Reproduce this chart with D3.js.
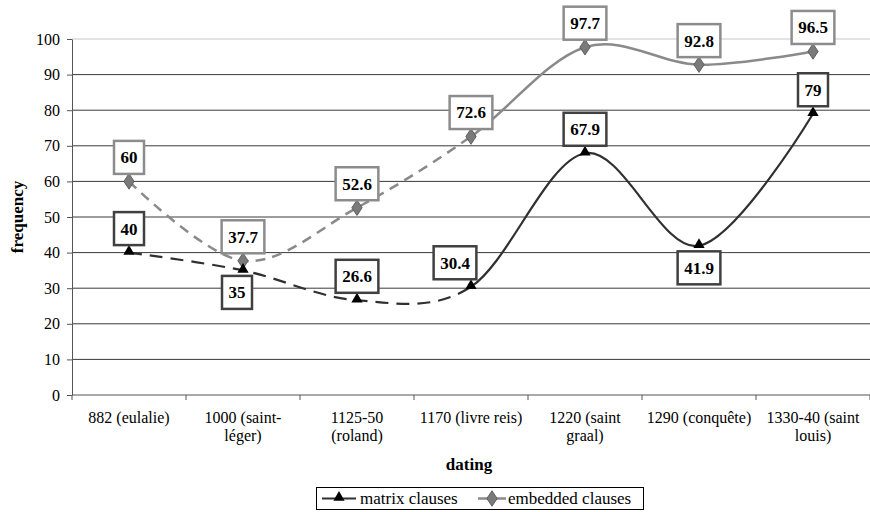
<!DOCTYPE html>
<html>
<head>
<meta charset="utf-8">
<script src="https://cdn.jsdelivr.net/npm/d3@7"></script>
<style>
  body { margin: 0; background: #fff; }
  svg text { font-family: "Liberation Serif", "Times New Roman", serif; }
</style>
</head>
<body>
<div id="chart"></div>
<script>
// line chart: frequency of matrix vs embedded clauses by dating

const categories = [
  "882 (eulalie)", "1000 (saint-\nléger)", "1125-50\n(roland)", "1170 (livre reis)",
  "1220 (saint\ngraal)", "1290 (conquête)", "1330-40 (saint\nlouis)"
];
const matrixClauses = [40, 35, 26.6, 30.4, 67.9, 41.9, 79];
const embeddedClauses = [60, 37.7, 52.6, 72.6, 97.7, 92.8, 96.5];
const yTicks = [0, 10, 20, 30, 40, 50, 60, 70, 80, 90, 100];

// where each value label sits (above / below the point)
const matrixLabelSide = ["above", "below", "above", "above", "above", "below", "above"];
const matrixLabelShift = [0, -6, 0, -16, 0, 0, 0];
const dashedUntil = 3; // index where lines turn solid

const W = 870, H = 512;
const plotLeft = 72, plotRight = 870, plotTop = 39, plotBottom = 395;

const svg = d3.select("#chart").append("svg")
  .attr("width", W).attr("height", H);

const x = d3.scaleBand().domain(categories).range([plotLeft, plotRight]);
const y = d3.scaleLinear().domain([0, 100]).range([plotBottom, plotTop]);
const cx = i => x(categories[i]) + x.bandwidth() / 2;

// gridlines
svg.append("g").selectAll("line")
  .data(yTicks.filter(t => t > 0))
  .join("line")
  .attr("x1", plotLeft).attr("x2", plotRight)
  .attr("y1", d => y(d)).attr("y2", d => y(d))
  .attr("stroke", d => d === 100 ? "#c8c8c8" : "#3a3a3a")
  .attr("stroke-width", 1);

// y axis
const yAxis = svg.append("g")
  .attr("transform", `translate(${plotLeft},0)`)
  .call(d3.axisLeft(y).tickValues(yTicks).tickSize(5).tickPadding(7).tickSizeOuter(0));
yAxis.select(".domain").attr("stroke", "#555");
yAxis.selectAll(".tick line").attr("stroke", "#555");
yAxis.selectAll("text").style("font-size", "16px").attr("fill", "#000")
  .style("font-family", "'Liberation Serif', serif");

// x axis
const xAxis = svg.append("g").attr("transform", `translate(0,${plotBottom})`);
xAxis.append("line").attr("x1", plotLeft).attr("x2", plotRight).attr("stroke", "#555");
xAxis.selectAll(".xt")
  .data(categories.concat([null]))
  .join("line")
  .attr("x1", d => d ? x(d) : plotRight).attr("x2", d => d ? x(d) : plotRight)
  .attr("y1", 0).attr("y2", 5).attr("stroke", "#555");
categories.forEach((c, i) => {
  const t = xAxis.append("text")
    .attr("x", cx(i)).attr("y", 28)
    .attr("text-anchor", "middle")
    .style("font-size", "16px");
  c.split("\n").forEach((s, k) => {
    t.append("tspan").attr("x", cx(i)).attr("dy", k ? 18 : 0).text(s);
  });
});

// axis titles
svg.append("text")
  .attr("x", (plotLeft + plotRight) / 2 - 2).attr("y", 470)
  .attr("text-anchor", "middle")
  .style("font-size", "17px").style("font-weight", "bold")
  .text("dating");
svg.append("text")
  .attr("transform", `translate(23,${(plotTop + plotBottom) / 2}) rotate(-90)`)
  .attr("text-anchor", "middle")
  .style("font-size", "17px").style("font-weight", "bold")
  .text("frequency");

// clip regions for dashed / solid parts
const defs = svg.append("defs");
defs.append("clipPath").attr("id", "clipDash")
  .append("rect").attr("x", 0).attr("y", 0).attr("width", cx(dashedUntil)).attr("height", H);
defs.append("clipPath").attr("id", "clipSolid")
  .append("rect").attr("x", cx(dashedUntil)).attr("y", 0).attr("width", W).attr("height", H);

const line = d3.line()
  .x((d, i) => cx(i))
  .y(d => y(d))
  .curve(d3.curveCardinal.tension(0));

function drawSeries(values, color, dash, sw) {
  svg.append("path").datum(values)
    .attr("d", line).attr("fill", "none")
    .attr("stroke", color).attr("stroke-width", sw)
    .attr("stroke-dasharray", dash)
    .attr("clip-path", "url(#clipDash)");
  svg.append("path").datum(values)
    .attr("d", line).attr("fill", "none")
    .attr("stroke", color).attr("stroke-width", sw)
    .attr("clip-path", "url(#clipSolid)");
}
drawSeries(embeddedClauses, "#8a8a8a", "10,7", 2.5);
drawSeries(matrixClauses, "#303030", "13,8", 2.2);

// markers
const tri = d3.symbol().type(d3.symbolTriangle).size(55);
const dia = d3.symbol().type(d3.symbolDiamond).size(70);
svg.append("g").selectAll("path")
  .data(embeddedClauses).join("path")
  .attr("d", dia)
  .attr("transform", (d, i) => `translate(${cx(i)},${y(d)}) scale(1.15,1)`)
  .attr("fill", "#7a7a7a").attr("stroke", "#555").attr("stroke-width", 0.8);
svg.append("g").selectAll("path")
  .data(matrixClauses).join("path")
  .attr("d", tri)
  .attr("transform", (d, i) => `translate(${cx(i)},${y(d) - 1})`)
  .attr("fill", "#000");

// value labels in boxes
function drawLabels(values, sides, shifts, stroke) {
  const g = svg.append("g");
  values.forEach((v, i) => {
    const side = sides ? sides[i] : "above";
    const px = cx(i) + (shifts ? shifts[i] : 0);
    const py = y(v) + (side === "above" ? -24 : 22);
    const lab = g.append("g").attr("transform", `translate(${px},${py})`);
    const rect = lab.append("rect");
    const t = lab.append("text")
      .attr("text-anchor", "middle").attr("dy", "0.35em")
      .style("font-size", "17px").style("font-weight", "bold")
      .text(v);
    const w = t.node().getComputedTextLength() + 13;
    rect.attr("x", -w / 2).attr("y", -16.5).attr("width", w).attr("height", 33)
      .attr("fill", "#fff").attr("stroke", stroke).attr("stroke-width", 2.5);
  });
}
drawLabels(embeddedClauses, null, null, "#8c8c8c");
drawLabels(matrixClauses, matrixLabelSide, matrixLabelShift, "#404040");

// legend
const lg = svg.append("g");
lg.append("rect").attr("x", 316.5).attr("y", 487.5).attr("width", 327).attr("height", 22)
  .attr("fill", "#fff").attr("stroke", "#000");
lg.append("line").attr("x1", 322).attr("x2", 356).attr("y1", 498.5).attr("y2", 498.5)
  .attr("stroke", "#303030").attr("stroke-width", 2.2);
lg.append("path").attr("d", tri).attr("transform", "translate(339,497.5)").attr("fill", "#000");
lg.append("text").attr("x", 360).attr("y", 504).style("font-size", "17px").text("matrix clauses");
lg.append("line").attr("x1", 478).attr("x2", 506).attr("y1", 498.5).attr("y2", 498.5)
  .attr("stroke", "#8a8a8a").attr("stroke-width", 2.5);
lg.append("path").attr("d", dia).attr("transform", "translate(492,498.5) scale(1.15,1)")
  .attr("fill", "#7a7a7a").attr("stroke", "#555").attr("stroke-width", 0.8);
lg.append("text").attr("x", 508).attr("y", 504).style("font-size", "17px").text("embedded clauses");
</script>
</body>
</html>
